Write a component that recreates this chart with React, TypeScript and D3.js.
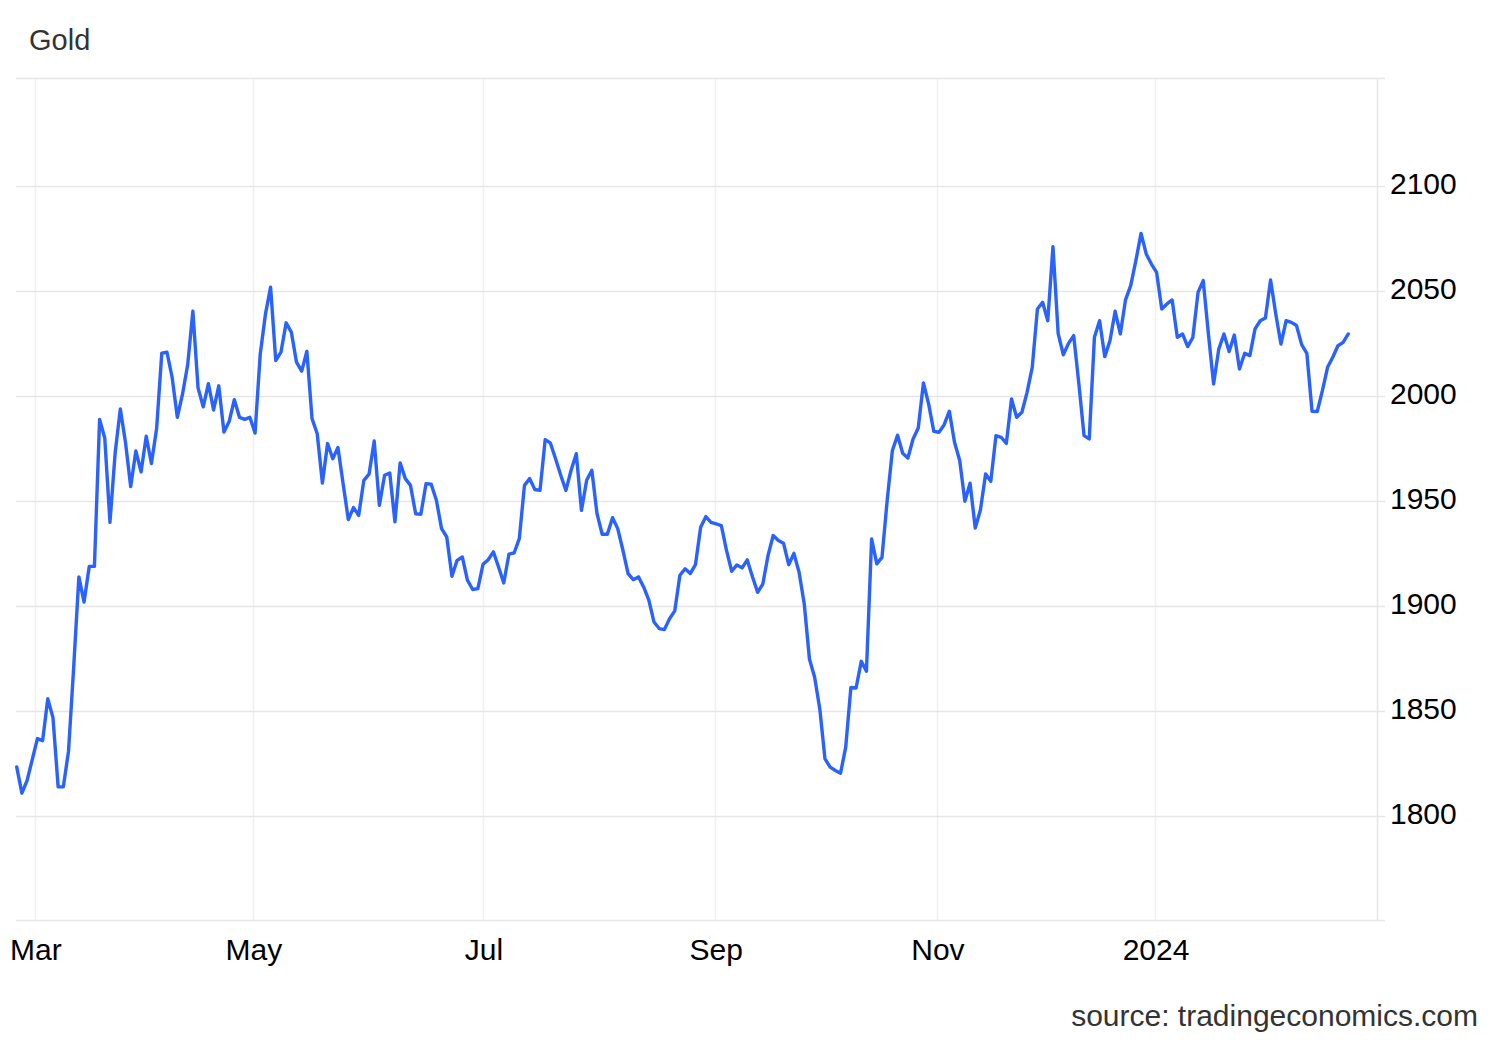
import React from "react";
import * as d3 from "d3";

const title = "Gold";
const source = "source: tradingeconomics.com";

const goldValues: number[] = [
  1823.5, 1811, 1817, 1827, 1837, 1836, 1856, 1847, 1814, 1814,
  1831, 1871, 1914, 1902, 1919, 1919, 1989, 1980, 1940, 1973,
  1994, 1978, 1957, 1974, 1964, 1981, 1968, 1984.5, 2020.6, 2021,
  2009, 1990, 2001, 2015, 2040.6, 2004, 1995, 2006, 1993.5, 2005,
  1983, 1988, 1998.4, 1990, 1989, 1990, 1982.5, 2020, 2039, 2052,
  2017, 2021, 2035, 2030.6, 2016.3, 2012, 2021.4, 1989.4, 1982.2, 1958.7,
  1977.5, 1970.3, 1975.6, 1958.4, 1941.3, 1947, 1943.3, 1960, 1962.9, 1978.7,
  1948.1, 1962.4, 1963.5, 1940.2, 1968.3, 1960.8, 1957.6, 1944.1, 1943.8, 1958.4,
  1958.1, 1950.5, 1937, 1933, 1914.3, 1921.9, 1923.5, 1912.4, 1908, 1908.4,
  1920, 1922.2, 1925.9, 1918.7, 1911.1, 1924.8, 1925.4, 1932.2, 1957.6, 1960.8,
  1955.6, 1955.2, 1979.4, 1977.8, 1970.3, 1962.4, 1955.2, 1964.8, 1972.7, 1945.7,
  1960, 1964.8, 1944.1, 1934.3, 1934.3, 1942.2, 1937, 1926.7, 1915.6, 1912.7,
  1914, 1909.2, 1902.9, 1892.5, 1889.4, 1888.9, 1894.1, 1897.8, 1914.8, 1917.9,
  1915.6, 1919.8, 1937.6, 1942.7, 1940, 1939.2, 1938.4, 1926.5, 1916.7, 1919.7,
  1918.3, 1922.1, 1914.1, 1906.7, 1910.6, 1924.1, 1933.7, 1931.3, 1930, 1919.8,
  1925.2, 1916.2, 1901.1, 1874.9, 1866.2, 1851.1, 1827.3, 1823.4, 1821.8, 1820.5,
  1832.9, 1861.4, 1861.1, 1873.8, 1869.1, 1932.1, 1920.2, 1923.3, 1950.3, 1974.1,
  1981.5, 1972.9, 1970.6, 1979.7, 1984.9, 2006.4, 1996.4, 1983.3, 1982.9, 1986.5,
  1992.9, 1978.1, 1969.4, 1950, 1958.6, 1937.3, 1945.9, 1963, 1959.5, 1981.3,
  1980.5, 1977.6, 1998.7, 1990, 1992.4, 2001.9, 2013.8, 2041.6, 2044.8, 2036,
  2071.3, 2030, 2019.8, 2025.2, 2028.9, 2005.9, 1981.3, 1979.7, 2028.1, 2036,
  2018.9, 2026.5, 2040.5, 2029.7, 2045.9, 2052.7, 2064.6, 2077.6, 2067.8, 2063,
  2059, 2041.6, 2044, 2045.9, 2028.1, 2029.7, 2023.7, 2028.1, 2049.5, 2055.1,
  2029.7, 2005.9, 2022.5, 2029.7, 2021.3, 2029.2, 2013, 2020.5, 2019.4, 2032.1,
  2036, 2037.3, 2055.4, 2039.2, 2024.9, 2036, 2035.2, 2033.7, 2024.6, 2020.5,
  1992.9, 1992.7, 2002.7, 2013.8, 2018.6, 2024.1, 2025.7, 2029.7,
];

const xTickLabels = ["Mar", "May", "Jul", "Sep", "Nov", "2024"];
const xTickIndex = [3.5, 45.6, 90, 134.8, 177.6, 219.7];
const yTicks = [1800, 1850, 1900, 1950, 2000, 2050, 2100];
const yDomain = [1750.6, 2151.6];

const W = 1500;
const H = 1040;
const plot = { left: 16, right: 1377, top: 78, bottom: 920 };
const lineStart = 16.7;
const lineEnd = 1348.3;
const FONT = "'Liberation Sans', Arial, Helvetica, sans-serif";

export default function App() {
  const x = d3.scaleLinear().domain([0, goldValues.length - 1]).range([lineStart, lineEnd]);
  const y = d3.scaleLinear().domain(yDomain).range([plot.bottom, plot.top]);
  const line = d3
    .line<number>()
    .x((_, i) => x(i))
    .y((d) => y(d));

  return (
    <svg
      width={W}
      height={H}
      viewBox={`0 0 ${W} ${H}`}
      style={{ position: "absolute", left: 0, top: 0, background: "#fff" }}
      fontFamily={FONT}
    >
      <rect x={0} y={0} width={W} height={H} fill="#ffffff" />
      <text x={29} y={50} fontSize={29} fill="#333333">
        {title}
      </text>

      {xTickIndex.map((t, i) => (
        <line
          key={"vg" + i}
          x1={Math.round(x(t)) + 0.5}
          x2={Math.round(x(t)) + 0.5}
          y1={plot.top}
          y2={plot.bottom}
          stroke="#f0f0f0"
          strokeWidth={1.5}
        />
      ))}

      <line x1={plot.left} x2={plot.right + 8} y1={plot.top + 0.5} y2={plot.top + 0.5} stroke="#e6e6e6" strokeWidth={1.5} />

      {yTicks.map((t) => (
        <line
          key={"hg" + t}
          x1={plot.left}
          x2={plot.right + 8}
          y1={Math.round(y(t)) + 0.5}
          y2={Math.round(y(t)) + 0.5}
          stroke="#e6e6e6"
          strokeWidth={1.5}
        />
      ))}

      <line x1={plot.left} x2={plot.right + 8} y1={plot.bottom + 0.5} y2={plot.bottom + 0.5} stroke="#e6e6e6" strokeWidth={1.5} />
      <line x1={plot.right + 0.5} x2={plot.right + 0.5} y1={plot.top} y2={plot.bottom} stroke="#e6e6e6" strokeWidth={1.5} />

      {yTicks.map((t) => (
        <text key={"yl" + t} x={1390} y={y(t) + 7.8} fontSize={30} fill="#000000">
          {t}
        </text>
      ))}

      {xTickIndex.map((t, i) => (
        <text key={"xl" + i} x={x(t) + 1} y={960} fontSize={30} fill="#000000" textAnchor="middle">
          {xTickLabels[i]}
        </text>
      ))}

      <path d={line(goldValues) || ""} fill="none" stroke="#2962ff" strokeWidth={3.4} strokeLinejoin="round" strokeLinecap="round" />

      <text x={1478} y={1026} fontSize={30} fill="#333333" textAnchor="end">
        {source}
      </text>
    </svg>
  );
}
